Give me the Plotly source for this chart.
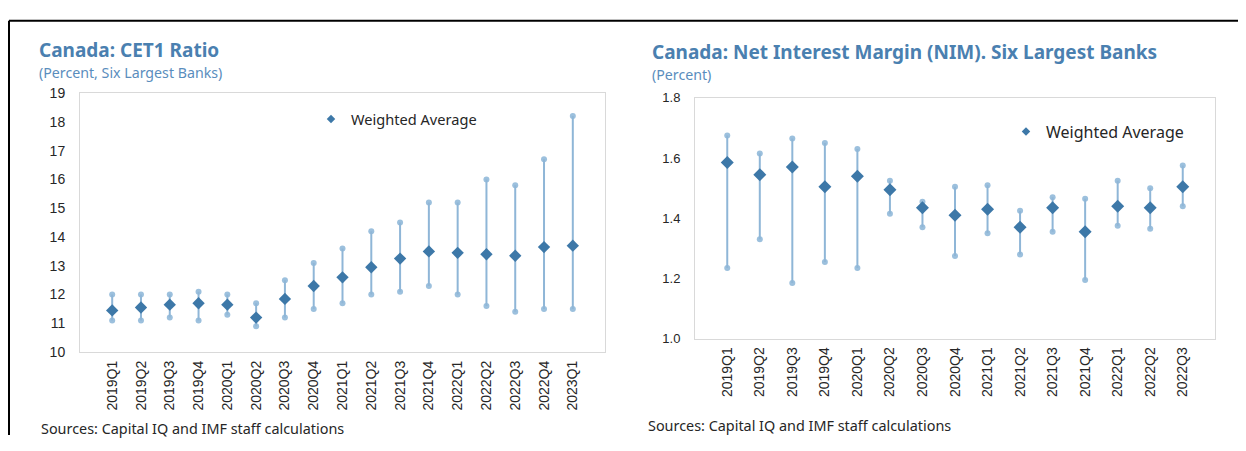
import plotly.graph_objects as go

# The page body has an 8px default margin; the figure fills the rest of the 1246x451 window.
OFF = 8
W, H = 1246 - 2 * OFF, 451 - 2 * OFF

# ---------------- Data ----------------
cet1_quarters = ["2019Q1", "2019Q2", "2019Q3", "2019Q4", "2020Q1", "2020Q2", "2020Q3", "2020Q4",
                 "2021Q1", "2021Q2", "2021Q3", "2021Q4", "2022Q1", "2022Q2", "2022Q3", "2022Q4", "2023Q1"]
cet1_avg = [11.45, 11.55, 11.65, 11.7, 11.65, 11.2, 11.85, 12.3, 12.6, 12.95, 13.25, 13.5, 13.45, 13.4, 13.35, 13.65, 13.7]
cet1_high = [12.0, 12.0, 12.0, 12.1, 12.0, 11.7, 12.5, 13.1, 13.6, 14.2, 14.5, 15.2, 15.2, 16.0, 15.8, 16.7, 18.2]
cet1_low = [11.1, 11.1, 11.2, 11.1, 11.3, 10.9, 11.2, 11.5, 11.7, 12.0, 12.1, 12.3, 12.0, 11.6, 11.4, 11.5, 11.5]

nim_quarters = ["2019Q1", "2019Q2", "2019Q3", "2019Q4", "2020Q1", "2020Q2", "2020Q3", "2020Q4",
                "2021Q1", "2021Q2", "2021Q3", "2021Q4", "2022Q1", "2022Q2", "2022Q3"]
nim_avg = [1.585, 1.545, 1.57, 1.505, 1.54, 1.495, 1.435, 1.41, 1.43, 1.37, 1.435, 1.355, 1.44, 1.435, 1.505]
nim_high = [1.675, 1.615, 1.665, 1.65, 1.63, 1.525, 1.455, 1.505, 1.51, 1.425, 1.47, 1.465, 1.525, 1.5, 1.575]
nim_low = [1.235, 1.33, 1.185, 1.255, 1.235, 1.415, 1.37, 1.275, 1.35, 1.28, 1.355, 1.195, 1.375, 1.365, 1.44]

cet1_yticks = [10, 11, 12, 13, 14, 15, 16, 17, 18, 19]
nim_yticks = [1.0, 1.2, 1.4, 1.6, 1.8]

# ---------------- Styles ----------------
DARK = "#3d78a8"
WHISK = "#8fb6d7"
DOT = "#9cc0dd"
TITLE_C = "#4a80b0"
SUB_C = "#5a8dbd"
BOX_C = "#d9d9d9"
INK = "#262626"
TXT_FONT = "Noto Sans"
TICK_FONT = "Liberation Sans"


def px_x(p):
    return (p - OFF) / W


def px_y(p):
    return 1 - (p - OFF) / H


fig = go.Figure()


def add_panel(xa, ya, cats, avg, high, low, dsize, legend_name):
    plus = [h - a for h, a in zip(high, avg)]
    minus = [a - l for a, l in zip(avg, low)]
    # end dots (min / max)
    fig.add_trace(go.Scatter(x=cats + cats, y=high + low, mode="markers",
                             marker=dict(symbol="circle", size=6, color=DOT),
                             xaxis=xa, yaxis=ya, showlegend=False, hoverinfo="skip"))
    # whiskers + weighted average diamonds
    fig.add_trace(go.Scatter(x=cats, y=avg, mode="markers",
                             marker=dict(symbol="diamond", size=dsize, color=DARK),
                             error_y=dict(type="data", symmetric=False, array=plus, arrayminus=minus,
                                          color=WHISK, thickness=2, width=0),
                             xaxis=xa, yaxis=ya, showlegend=False, name="Weighted Average"))
    # legend entry
    fig.add_trace(go.Scatter(x=[None], y=[None], mode="markers",
                             marker=dict(symbol="diamond", size=6.5, color=DARK),
                             xaxis=xa, yaxis=ya, showlegend=True, name="Weighted Average",
                             legend=legend_name))


add_panel("x", "y", cet1_quarters, cet1_avg, cet1_high, cet1_low, 9.5, "legend")
add_panel("x2", "y2", nim_quarters, nim_avg, nim_high, nim_low, 10, "legend2")

axis_common = dict(showgrid=False, zeroline=False, showline=True, linecolor=BOX_C, linewidth=1,
                   mirror=True, ticks="")

fig.update_layout(
    width=W, height=H,
    margin=dict(l=0, r=0, t=0, b=0),
    paper_bgcolor="white", plot_bgcolor="white",
    xaxis=dict(domain=[px_x(80), px_x(605)], anchor="y", type="category",
               tickangle=-90, ticklabelstandoff=2,
               tickfont=dict(family=TICK_FONT, size=14, color=INK), **axis_common),
    yaxis=dict(domain=[px_y(357), px_y(88)], anchor="x", range=[10, 19],
               tickvals=cet1_yticks, ticktext=[str(v) for v in cet1_yticks],
               ticklabelstandoff=11,
               tickfont=dict(family=TICK_FONT, size=14, color=INK), **axis_common),
    xaxis2=dict(domain=[px_x(695), px_x(1215)], anchor="y2", type="category",
                tickangle=-90, ticklabelstandoff=2,
                tickfont=dict(family=TICK_FONT, size=14, color=INK), **axis_common),
    yaxis2=dict(domain=[px_y(343), px_y(93)], anchor="x2", range=[1.0, 1.8],
                tickvals=nim_yticks, ticktext=[f"{v:.1f}" for v in nim_yticks],
                ticklabelstandoff=11,
                tickfont=dict(family=TICK_FONT, size=13, color=INK), **axis_common),
    legend=dict(x=px_x(311), y=px_y(115), xanchor="left", yanchor="middle",
                bgcolor="rgba(0,0,0,0)", font=dict(family=TXT_FONT, size=14.6, color=INK)),
    legend2=dict(x=px_x(1006), y=px_y(128), xanchor="left", yanchor="middle",
                 bgcolor="rgba(0,0,0,0)", font=dict(family=TXT_FONT, size=16, color=INK)),
    showlegend=True,
)

annotations = [
    dict(text="<b>Canada: CET1 Ratio</b>", x=px_x(37), y=px_y(43), font=dict(family=TXT_FONT, size=19, color=TITLE_C)),
    dict(text="(Percent, Six Largest Banks)", x=px_x(37), y=px_y(67), font=dict(family=TXT_FONT, size=14.2, color=SUB_C)),
    dict(text="<b>Canada: Net Interest Margin (NIM). Six Largest Banks</b>", x=px_x(650), y=px_y(45),
         font=dict(family=TXT_FONT, size=19, color=TITLE_C)),
    dict(text="(Percent)", x=px_x(650), y=px_y(69), font=dict(family=TXT_FONT, size=14.2, color=SUB_C)),
    dict(text="Sources: Capital IQ and IMF staff calculations", x=px_x(39), y=px_y(436),
         font=dict(family=TXT_FONT, size=14.4, color=INK)),
    dict(text="Sources: Capital IQ and IMF staff calculations", x=px_x(646), y=px_y(433),
         font=dict(family=TXT_FONT, size=14.4, color=INK)),
]
for a in annotations:
    fig.add_annotation(xref="paper", yref="paper", xanchor="left", yanchor="middle",
                       showarrow=False, **a)

# outer black frame (top and left edges)
fig.add_shape(type="line", xref="paper", yref="paper", x0=px_x(9), x1=1, y0=px_y(13), y1=px_y(13),
              line=dict(color="black", width=2))
fig.add_shape(type="line", xref="paper", yref="paper", x0=px_x(9), x1=px_x(9), y0=px_y(13), y1=0,
              line=dict(color="black", width=2))

fig.write_html("out.html")
